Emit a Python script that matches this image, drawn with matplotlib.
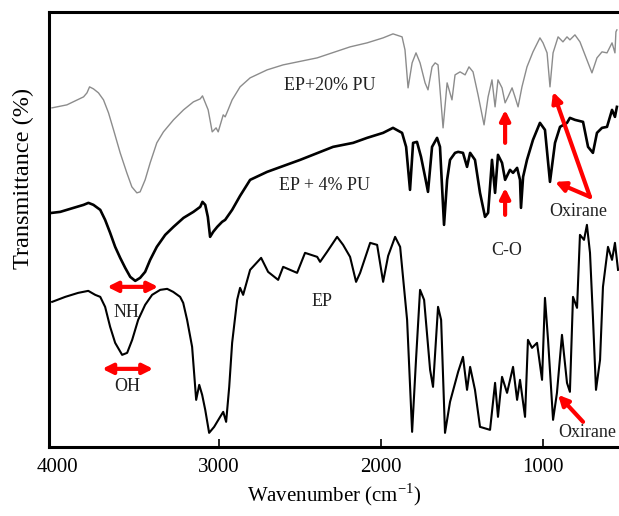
#!/usr/bin/env python3
"""
FTIR spectra of EP, EP + 4% PU and EP + 20% PU
python3 plot.py
"""

import matplotlib
matplotlib.use("Agg")
import matplotlib.pyplot as plt


# -----------------------------
# Data (wavenumber in cm-1, transmittance in arbitrary offset units)
# -----------------------------
wn_pu20 = [4031, 3939, 3836, 3815, 3799, 3775, 3744, 3713, 3682, 3651, 3610, 3569,
           3538, 3507, 3487, 3456, 3425, 3384, 3343, 3281, 3219, 3158, 3116, 3102,
           3067, 3042, 3018, 3005, 2974, 2962, 2944, 2919, 2870, 2808, 2703, 2604,
           2394, 2191, 2086, 1987, 1926, 1870, 1852, 1833, 1808, 1784,
           1759, 1728, 1710, 1685, 1666, 1648, 1617, 1592, 1562, 1543, 1512, 1481,
           1457, 1432, 1401, 1364, 1339, 1315, 1296, 1278, 1253, 1234, 1216, 1191,
           1173, 1154, 1130, 1099, 1062, 1019, 1000, 975, 957, 938, 907, 877,
           852, 834, 803, 772, 729, 698, 667, 636, 605, 574, 556, 550, 544]
tr_pu20 = [339, 342, 350, 354, 360, 358, 354, 347, 334, 317, 294, 274,
           260, 254, 255, 267, 284, 304, 315, 327, 337, 345, 348, 351,
           337, 315, 319, 315, 332, 330, 337, 347, 360, 369, 377, 382,
           389, 400, 404, 409, 413, 410, 397, 359, 384, 394,
           384, 364, 357, 380, 384, 382, 319, 364, 347, 372, 375, 372,
           380, 375, 352, 322, 350, 367, 340, 367, 359, 344, 350, 359,
           350, 340, 360, 380, 395, 409, 404, 394, 360, 394, 410, 405,
           410, 407, 412, 405, 387, 374, 389, 395, 394, 404, 394, 415, 417]

wn_pu4 = [4031, 3980, 3898, 3836, 3806, 3775, 3733, 3703, 3672, 3641, 3610, 3579,
          3548, 3517, 3487, 3456, 3425, 3384, 3332, 3281, 3219, 3158, 3116, 3102,
          3085, 3069, 3055, 3036, 3011, 2981, 2962, 2919, 2870, 2808, 2703,
          2499, 2296, 2172, 2086, 1987, 1926, 1870, 1845, 1821, 1802, 1778, 1753,
          1728, 1710, 1685, 1654, 1636, 1611, 1592, 1574, 1543, 1524, 1494, 1469,
          1450, 1420, 1389, 1358, 1339, 1315, 1296, 1278, 1253, 1234, 1204, 1185,
          1160, 1142, 1136, 1123, 1099, 1062, 1019, 988, 957, 926, 895, 852,
          834, 803, 753, 722, 692, 667, 636, 605, 574, 556, 544]
tr_pu4 = [234, 235, 239, 242, 244, 242, 237, 227, 214, 200, 189, 179,
          170, 166, 169, 175, 187, 200, 212, 220, 229, 235, 240, 245,
          242, 230, 210, 215, 220, 225, 227, 237, 251, 267, 275,
          287, 300, 304, 309, 314, 319, 314, 300, 257, 304, 305, 290,
          270, 255, 300, 309, 300, 222, 267, 287, 294, 295, 294, 280,
          294, 287, 254, 230, 234, 287, 254, 292, 284, 267, 277, 274,
          279, 267, 239, 270, 287, 307, 324, 317, 265, 304, 320, 324,
          329, 327, 325, 300, 294, 314, 319, 320, 337, 330, 340]

wn_ep = [4030, 3949, 3869, 3807, 3764, 3733, 3703, 3672, 3641, 3598, 3567, 3536,
         3499, 3456, 3413, 3363, 3320, 3283, 3240, 3221, 3197, 3166, 3141, 3122,
         3104, 3085, 3061, 3030, 2993, 2974, 2956, 2937, 2919, 2888, 2870, 2851,
         2808, 2740, 2697, 2635, 2604, 2561, 2518, 2469, 2394, 2376, 2333, 2271,
         2234, 2191, 2154, 2129, 2067, 2024, 1987, 1956, 1913, 1882, 1839, 1808,
         1784, 1759, 1734, 1697, 1679, 1648, 1629, 1605, 1574, 1524, 1494, 1469,
         1450, 1420, 1389, 1327, 1296, 1278, 1253, 1222, 1185, 1160, 1142, 1111,
         1093, 1068, 1037, 1006, 988, 969, 938, 914, 883, 852, 834, 815,
         790, 772, 747, 729, 710, 692, 673, 648, 630, 599, 574, 556, 537]
tr_ep = [145, 150, 154, 156, 152, 150, 140, 120, 104, 92, 94, 107,
         127, 142, 152, 157, 158, 155, 150, 144, 127, 100, 47, 62,
         52, 37, 14, 20, 30, 35, 25, 60, 104, 147, 159, 152,
         177, 189, 175, 167, 180, 177, 174, 194, 190, 185, 195, 210,
         202, 190, 165, 174, 204, 202, 165, 191, 210, 200, 127, 15,
         87, 157, 147, 77, 60, 140, 127, 14, 45, 75, 90, 57,
         80, 57, 20, 17, 64, 30, 70, 54, 80, 47, 67, 30,
         107, 99, 104, 67, 149, 107, 27, 54, 112, 64, 55, 150,
         139, 212, 207, 222, 194, 130, 57, 87, 160, 200, 187, 204, 177]

xticks = [4000, 3000, 2000, 1000]

# text labels: (text, wavenumber, transmittance)
labels = [
    ("EP+20% PU", 2314, 361),
    ("EP + 4% PU", 2351, 261),
    ("EP", 2364, 145),
    ("C-O", 1222, 196),
    ("Oxirane", 784, 235),
    ("Oxirane", 729, 14),
    ("NH", 3573, 134),
    ("OH", 3567, 60),
]

# arrows: (tail wn, tail tr, head wn, head tr, double headed)
arrows = [
    (3690, 160, 3375, 160, True),
    (3721, 78, 3406, 78, True),
    (1234, 304, 1234, 337, False),
    (1234, 232, 1234, 259, False),
    (710, 250, 938, 355, False),
    (710, 250, 926, 265, False),
    (753, 25, 907, 52, False),
]


# -----------------------------
# Main
# -----------------------------
def main():

    plt.rcParams["font.family"] = ["Liberation Serif", "DejaVu Serif"]
    plt.rcParams["mathtext.fontset"] = "custom"
    plt.rcParams["mathtext.rm"] = "Liberation Serif"

    fig = plt.figure(figsize=(6.19, 5.16), dpi=100)
    ax = fig.add_axes([0.079, 0.134, 0.921, 0.843])

    ax.plot(wn_pu20, tr_pu20, color="#8c8c8c", lw=1.0, solid_joinstyle="round")
    ax.plot(wn_pu4, tr_pu4, color="black", lw=1.9, solid_joinstyle="round")
    ax.plot(wn_ep, tr_ep, color="black", lw=1.5, solid_joinstyle="round")

    for text, x, y in labels:
        ax.text(x, y, text, ha="center", va="center", fontsize=13, color="#222222")

    for x0, y0, x1, y1, double in arrows:
        style = "<|-|>" if double else "-|>"
        ax.annotate("", xy=(x1, y1), xytext=(x0, y0),
                    arrowprops=dict(arrowstyle=style, color="red", lw=3,
                                    mutation_scale=15, shrinkA=0, shrinkB=0))

    ax.set_xlim(4050, 531)
    ax.set_ylim(0, 435)

    ax.set_xticks(xticks)
    ax.set_xticklabels([str(t) for t in xticks], fontsize=15)
    ax.set_yticks([])
    ax.tick_params(axis="x", direction="in", length=6, width=1.2, pad=8)
    ax.get_xticklines()[0].set_visible(False)

    ax.set_xlabel("Wavenumber (cm$^{\\mathregular{-1}}$)", fontsize=15, labelpad=3)
    ax.set_ylabel("Transmittance (%)", fontsize=17.5)
    ax.yaxis.set_label_coords(-0.026, 0.616)

    for side in ["left", "bottom", "top"]:
        ax.spines[side].set_linewidth(2.2)
    ax.spines["right"].set_visible(False)

    fig.savefig("out.png", dpi=100)
    plt.close(fig)


if __name__ == "__main__":
    main()
